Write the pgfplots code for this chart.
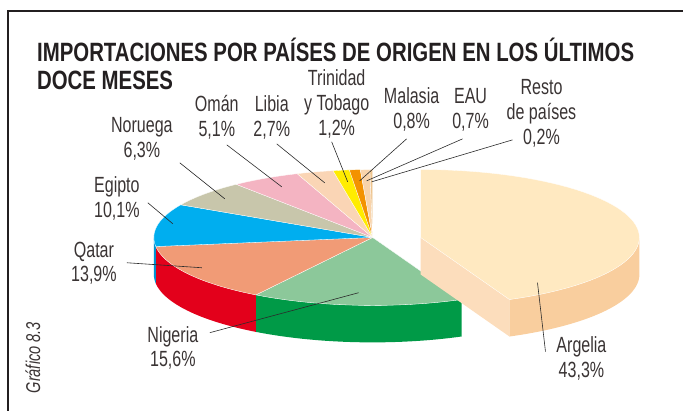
\documentclass[border=0pt]{standalone}
\usepackage{pgfplots}
\pgfplotsset{compat=1.18}
\usepgfplotslibrary{fillbetween}
\usepackage{fontspec}
\setmainfont{Liberation Sans}
\newfontfamily\titlefont[FakeStretch=0.77]{Liberation Sans}
\newfontfamily\labfont[FakeStretch=0.73]{Liberation Sans}

\definecolor{cTitle}{HTML}{231F20}
\definecolor{cLab}{HTML}{3A3434}
\definecolor{cLine}{HTML}{2B2B2B}
\definecolor{cArgTop}{HTML}{FFE9C1}
\definecolor{cArgSide}{HTML}{F9CE9E}
\definecolor{cArgCut}{HTML}{FCDDBC}
\definecolor{cNigTop}{HTML}{8CC89A}
\definecolor{cNigSide}{HTML}{009A47}
\definecolor{cQatTop}{HTML}{F19B76}
\definecolor{cQatSide}{HTML}{E3001B}
\definecolor{cEgiTop}{HTML}{00AEEF}
\definecolor{cEgiSide}{HTML}{0093D2}
\definecolor{cNor}{HTML}{C8C6AB}
\definecolor{cOma}{HTML}{F4B4C2}
\definecolor{cLib}{HTML}{FAD5B5}
\definecolor{cTri}{HTML}{FFEC00}
\definecolor{cMal}{HTML}{F39200}
\definecolor{cEAU}{HTML}{F8D3AA}
\definecolor{cRes}{HTML}{EEC48E}

% data (percent)
\def\vArg{43.3}\def\vNig{15.6}\def\vQat{13.9}\def\vEgi{10.1}\def\vNor{6.3}
\def\vOma{5.1}\def\vLib{2.7}\def\vTri{1.2}\def\vMal{0.8}\def\vEAU{0.7}\def\vRes{0.2}

\def\cy{173.3}\def\rx{219}\def\ry{68}\def\dep{37}

\newcommand\topface[4]{%
\addplot[fill=#1, draw=white, line width=0.3pt, domain=#3:#2, samples=60]
 ({#4+\rx*cos(x)},{\cy+\ry*sin(x)}) -- (#4,\cy) -- cycle;}
\newcommand\sideface[5]{%
\addplot[name path=#1t, draw=none, domain=#3:#4, samples=40]
 ({#5+\rx*cos(x)},{\cy+\ry*sin(x)});
\addplot[name path=#1b, draw=none, domain=#3:#4, samples=40]
 ({#5+\rx*cos(x)},{\cy-\dep+\ry*sin(x)});
\addplot[fill=#2, draw=none] fill between[of=#1t and #1b];}
\newcommand\lab[3]{\node[anchor=base, text=cLab, inner sep=0pt,
 font=\labfont\fontsize{22}{25}\selectfont] at (axis cs:#1,#2) {#3};}
\newcommand\lead[4]{\addplot[draw=cLine, line width=0.6pt] coordinates {(#1,#2) (#3,#4)};}

\begin{document}
\begin{tikzpicture}
\pgfmathsetmacro\tot{\vArg+\vNig+\vQat+\vEgi+\vNor+\vOma+\vLib+\vTri+\vMal+\vEAU+\vRes}
\pgfmathsetmacro\k{360/\tot}
\pgfmathsetmacro\aA{90}
\pgfmathsetmacro\aB{\aA-\k*\vArg}
\pgfmathsetmacro\aC{\aB-\k*\vNig}
\pgfmathsetmacro\aD{\aC-\k*\vQat}
\pgfmathsetmacro\aE{\aD-\k*\vEgi}
\pgfmathsetmacro\aF{\aE-\k*\vNor}
\pgfmathsetmacro\aG{\aF-\k*\vOma}
\pgfmathsetmacro\aH{\aG-\k*\vLib}
\pgfmathsetmacro\aI{\aH-\k*\vTri}
\pgfmathsetmacro\aJ{\aI-\k*\vMal}
\pgfmathsetmacro\aK{\aJ-\k*\vEAU}
\pgfmathsetmacro\aL{\aK-\k*\vRes}
\pgfmathsetmacro\px{421+\rx*cos(\aB)}
\pgfmathsetmacro\py{\cy+\ry*sin(\aB)}
\pgfmathsetmacro\pyb{\py-\dep}
\pgfmathsetmacro\cyb{\cy-\dep}
\begin{axis}[width=684pt,height=411pt,scale only axis,
  xmin=0,xmax=684,ymin=0,ymax=411,axis lines=none,
  xtick=\empty,ytick=\empty,clip=false]
\addplot[draw=none, forget plot] coordinates {(0,0) (684,411)};
% frame
\addplot[draw=cTitle, line width=1.3pt] coordinates {(8,0) (8,400) (684,400)};
% main pie side faces
\sideface{nig}{cNigSide}{\aC}{\aB}{373}
\sideface{qat}{cQatSide}{\aD}{\aC}{373}
\sideface{egi}{cEgiSide}{-180}{\aD}{373}
% main pie top faces
\topface{cNigTop}{\aB}{\aC}{373}
\topface{cQatTop}{\aC}{\aD}{373}
\topface{cEgiTop}{\aD}{\aE}{373}
\topface{cNor}{\aE}{\aF}{373}
\topface{cOma}{\aF}{\aG}{373}
\topface{cLib}{\aG}{\aH}{373}
\topface{cTri}{\aH}{\aI}{373}
\topface{cMal}{\aI}{\aJ}{373}
\topface{cEAU}{\aJ}{\aK}{373}
\topface{cRes}{\aK}{\aL}{373}
% Argelia (exploded)
\sideface{arg}{cArgSide}{\aB}{0}{421}
\edef\tmp{\noexpand\addplot[fill=cArgCut, draw=none] coordinates {(421,\cy) (\px,\py) (\px,\pyb) (421,\cyb)} -- cycle;}
\tmp
\topface{cArgTop}{\aA}{\aB}{421}
% leader lines
\lead{227}{266}{282}{224}
\lead{277}{267}{325}{228}
\lead{332}{269}{348}{229}
\lead{407}{272}{360}{230}
\lead{463}{272}{367}{230}
\lead{513}{271}{372}{229}
\lead{180}{248}{225}{212}
\lead{148}{208}{173}{187}
\lead{127}{148}{202}{143}
\lead{210}{78}{359}{118}
\lead{538}{128}{546}{59}
% title
\node[anchor=base west, inner sep=0pt, text=cTitle,
  font=\titlefont\bfseries\fontsize{26.5}{30}\selectfont] at (axis cs:37,349.5)
  {IMPORTACIONES POR PAÍSES DE ORIGEN EN LOS ÚLTIMOS};
\node[anchor=base west, inner sep=0pt, text=cTitle,
  font=\titlefont\bfseries\fontsize{26.5}{30}\selectfont] at (axis cs:37,321)
  {DOCE MESES};
% labels
\lab{217}{299}{Omán}\lab{217}{274}{5,1\%}
\lab{272}{299}{Libia}\lab{272}{274}{2,7\%}
\lab{337}{325}{Trinidad}\lab{337}{300}{y Tobago}\lab{337}{275}{1,2\%}
\lab{412}{307}{Malasia}\lab{412}{282}{0,8\%}
\lab{471}{307}{EAU}\lab{471}{282}{0,7\%}
\lab{542}{316}{Resto}\lab{542}{291}{de países}\lab{542}{266}{0,2\%}
\lab{142}{278}{Noruega}\lab{142}{253}{6,3\%}
\lab{117}{218}{Egipto}\lab{117}{193}{10,1\%}
\lab{94}{153}{Qatar}\lab{94}{129}{13,9\%}
\lab{173}{68}{Nigeria}\lab{173}{44}{15,6\%}
\lab{582}{58}{Argelia}\lab{582}{33}{43,3\%}
\node[rotate=90, text=cLab, inner sep=0pt,
  font=\labfont\itshape\fontsize{20}{24}\selectfont] at (axis cs:33,53) {Gráfico 8.3};
\end{axis}
\end{tikzpicture}
\end{document}
